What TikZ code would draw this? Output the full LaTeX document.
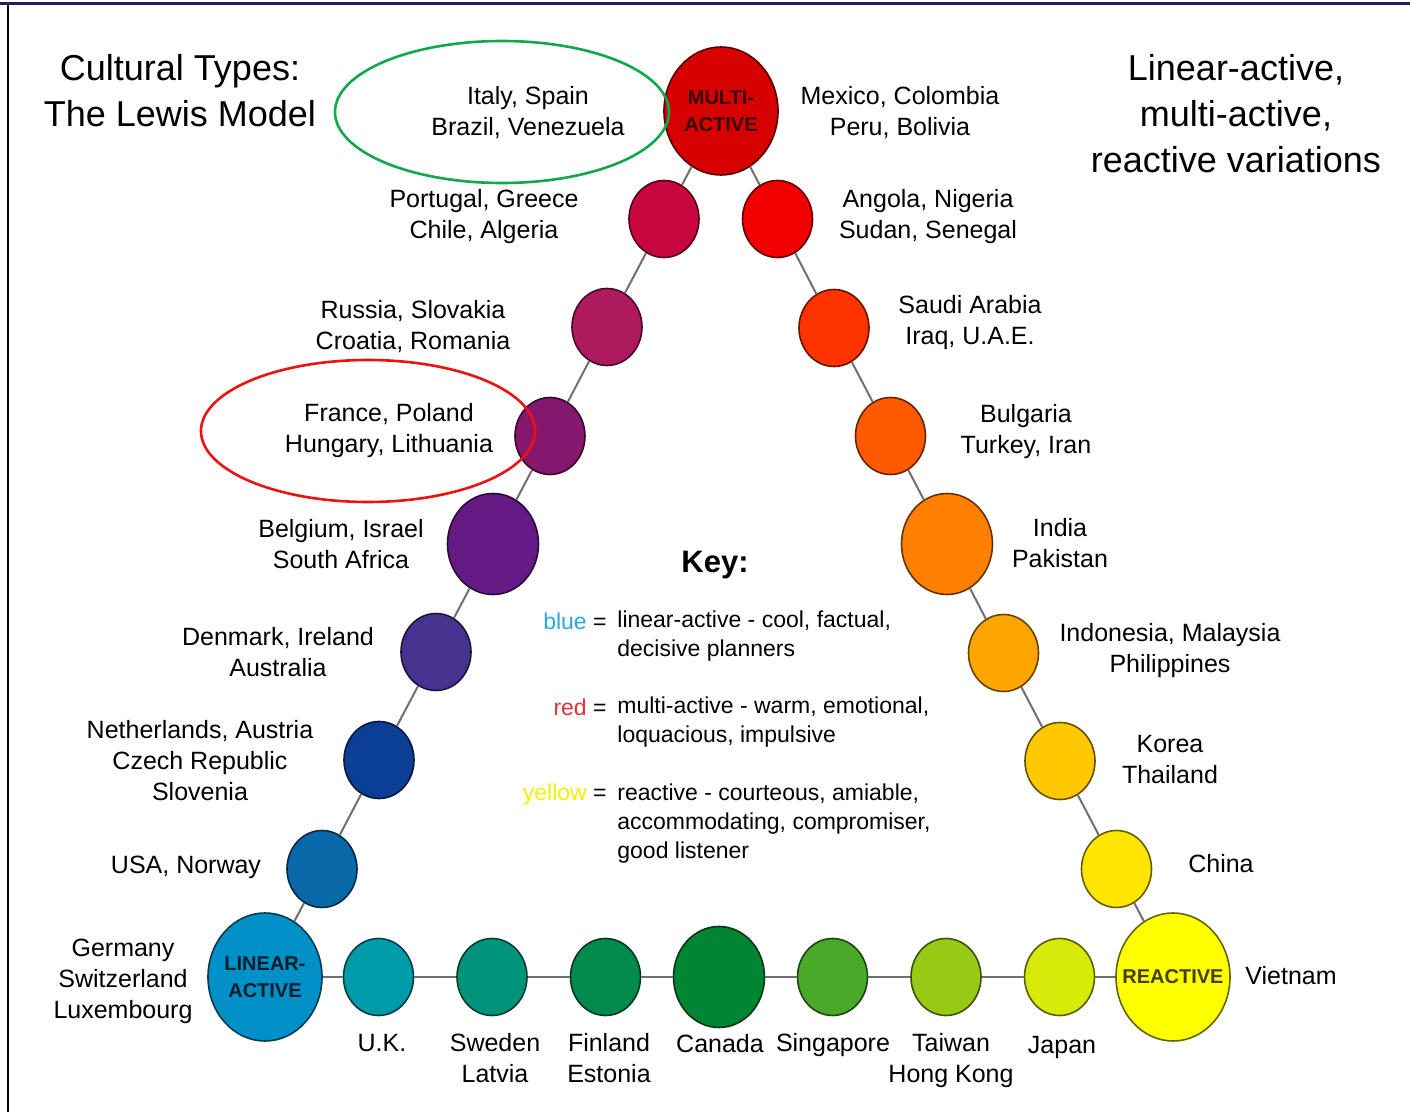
\documentclass[tikz,border=0pt]{standalone}
\usepackage{fontspec}
\setmainfont{Liberation Sans}
\usetikzlibrary{shapes.geometric}

\definecolor{cLin}{HTML}{0090C8}
\definecolor{cUsa}{HTML}{0868A8}
\definecolor{cNet}{HTML}{0A3F95}
\definecolor{cDen}{HTML}{46338F}
\definecolor{cBel}{HTML}{661A85}
\definecolor{cFra}{HTML}{85186E}
\definecolor{cRus}{HTML}{AD1A5E}
\definecolor{cPor}{HTML}{C8063F}
\definecolor{cMul}{HTML}{D70000}
\definecolor{cAng}{HTML}{F20000}
\definecolor{cSau}{HTML}{FF3300}
\definecolor{cBul}{HTML}{FF5A00}
\definecolor{cInd}{HTML}{FF8000}
\definecolor{cIno}{HTML}{FFA500}
\definecolor{cKor}{HTML}{FFC800}
\definecolor{cChi}{HTML}{FFE500}
\definecolor{cRea}{HTML}{FFFF00}
\definecolor{cUk}{HTML}{009BA8}
\definecolor{cSwe}{HTML}{00957A}
\definecolor{cFin}{HTML}{008A4E}
\definecolor{cCan}{HTML}{008633}
\definecolor{cSin}{HTML}{4AA928}
\definecolor{cTai}{HTML}{97CA15}
\definecolor{cJap}{HTML}{D8EA0A}
\definecolor{linkgray}{HTML}{707070}
\definecolor{ringgreen}{HTML}{10A84A}
\definecolor{ringred}{HTML}{EE1111}
\definecolor{keyblue}{HTML}{2AA8D8}
\definecolor{keyred}{HTML}{E8303A}
\definecolor{keyyellow}{HTML}{F0F000}
\definecolor{framec}{HTML}{20205A}

\tikzset{
  ball/.style={ellipse, fill=#1, draw=#1!40!black, line width=0.8pt, inner sep=0pt,
    minimum width=35pt, minimum height=38.5pt},
  mid/.style={minimum width=45.5pt, minimum height=50.5pt},
  big/.style={minimum width=57pt, minimum height=64pt},
  inball/.style={font=\fontsize{10}{13.5}\selectfont\bfseries, align=center, inner sep=0pt, text=#1},
  link/.style={draw=linkgray, line width=1pt},
  ring/.style={draw=#1, line width=1.3pt},
  ctry/.style={align=center, inner sep=0pt, font=\fontsize{12.5}{15.5}\selectfont},
  heading/.style={align=center, inner sep=0pt, font=\fontsize{18}{23}\selectfont},
  keytxt/.style={align=left, inner sep=0pt, font=\fontsize{11.5}{14.5}\selectfont},
}

\begin{document}
\begin{tikzpicture}[x=0.5pt,y=-0.5pt]
\useasboundingbox (0,0) rectangle (1410,1112);
\draw[framec, line width=1.5pt] (0,4) -- (1410,4);
\draw[line width=1pt] (8,4) -- (8,1112);

\node[ball=cLin, big, label={[inball=cLin!20!black]center:{LINEAR-\\ACTIVE}}] (lin) at (265,977) {};
\node[ball=cUsa] (usa) at (322,869) {};
\node[ball=cNet] (net) at (379,760) {};
\node[ball=cDen] (den) at (436,652) {};
\node[ball=cBel, mid] (bel) at (493,544) {};
\node[ball=cFra] (fra) at (550,436) {};
\node[ball=cRus] (rus) at (607,327) {};
\node[ball=cPor] (por) at (664,219) {};
\node[ball=cMul, big, label={[inball=cMul!25!black]center:{MULTI-\\ACTIVE}}] (multi) at (721,111) {};
\node[ball=cAng] (ang) at (777.5,219) {};
\node[ball=cSau] (sau) at (834,328) {};
\node[ball=cBul] (bul) at (890.5,436) {};
\node[ball=cInd, mid] (ind) at (947,544) {};
\node[ball=cIno] (ino) at (1003.5,653) {};
\node[ball=cKor] (kor) at (1060,761) {};
\node[ball=cChi] (chi) at (1116.5,869) {};
\node[ball=cRea, big, label={[inball=cRea!25!black]center:REACTIVE}] (react) at (1173,977) {};
\node[ball=cUk] (uk) at (378.5,977) {};
\node[ball=cSwe] (swe) at (492,977) {};
\node[ball=cFin] (fin) at (605.5,977) {};
\node[ball=cCan, mid] (can) at (719,977) {};
\node[ball=cSin] (sin) at (832.5,977) {};
\node[ball=cTai] (tai) at (946,977) {};
\node[ball=cJap] (jap) at (1059.5,977) {};

\foreach \a/\b in {lin/usa, usa/net, net/den, den/bel, bel/fra, fra/rus, rus/por, por/multi,
  multi/ang, ang/sau, sau/bul, bul/ind, ind/ino, ino/kor, kor/chi, chi/react,
  lin/uk, uk/swe, swe/fin, fin/can, can/sin, sin/tai, tai/jap, jap/react}
  \draw[link] (\a) -- (\b);

\node[heading] (ttl) at (180,91) {Cultural Types:\\The Lewis Model};
\node[heading] (sub) at (1236,114) {Linear-active,\\multi-active,\\reactive variations};

\node[ctry] (tita) at (528,113) {Italy, Spain\\Brazil, Venezuela};
\node[ctry] (tpor) at (484,217) {Portugal, Greece\\Chile, Algeria};
\node[ctry] (trus) at (413,327) {Russia, Slovakia\\Croatia, Romania};
\node[ctry] (tfra) at (389,431) {France, Poland\\Hungary, Lithuania};
\node[ctry] (tbel) at (341,544) {Belgium, Israel\\South Africa};
\node[ctry] (tden) at (278,652) {Denmark, Ireland\\Australia};
\node[ctry] (tnet) at (200,761) {Netherlands, Austria\\Czech Republic\\Slovenia};
\node[ctry] (tusa) at (186,867) {USA, Norway};
\node[ctry] (tger) at (123,981) {Germany\\Switzerland\\Luxembourg};
\node[ctry] (tmex) at (900,113) {Mexico, Colombia\\Peru, Bolivia};
\node[ctry] (tang) at (928,217) {Angola, Nigeria\\Sudan, Senegal};
\node[ctry] (tsau) at (970,323) {Saudi Arabia\\Iraq, U.A.E.};
\node[ctry] (tbul) at (1026,432) {Bulgaria\\Turkey, Iran};
\node[ctry] (tind) at (1060,543) {India\\Pakistan};
\node[ctry] (tino) at (1170,651) {Indonesia, Malaysia\\Philippines};
\node[ctry] (tkor) at (1170,760) {Korea\\Thailand};
\node[ctry] (tchi) at (1221,864) {China};
\node[ctry] (tvie) at (1291,976) {Vietnam};
\node[ctry] (tuk) at (382,1043) {U.K.};
\node[ctry] (tswe) at (495,1058) {Sweden\\Latvia};
\node[ctry] (tfin) at (609,1058) {Finland\\Estonia};
\node[ctry] (tcan) at (720,1044) {Canada};
\node[ctry] (tsin) at (833,1045) {Singapore};
\node[ctry] (ttai) at (951,1061) {Taiwan\\Hong Kong};
\node[ctry] (tjap) at (1062,1047) {Japan};

\draw[ring=ringgreen] (502,112) ellipse [x radius=167, y radius=71];
\draw[ring=ringred] (368,431) ellipse [x radius=167, y radius=71];

\node[inner sep=0pt, font=\fontsize{15.5}{18}\selectfont\bfseries] (key) at (715,565) {Key:};
\node[keytxt, anchor=east] (kblue) at (607,621) {\textcolor{keyblue}{blue} =};
\node[keytxt, anchor=west] (dblue) at (617,636) {linear-active - cool, factual,\\decisive planners};
\node[keytxt, anchor=east] (kred) at (607,707) {\textcolor{keyred}{red} =};
\node[keytxt, anchor=west] (dred) at (617,722) {multi-active - warm, emotional,\\loquacious, impulsive};
\node[keytxt, anchor=east] (kyel) at (607,795) {\textcolor{keyyellow}{yellow} =};
\node[keytxt, anchor=west] (dyel) at (617,824) {reactive - courteous, amiable,\\accommodating, compromiser,\\good listener};
\end{tikzpicture}
\end{document}
